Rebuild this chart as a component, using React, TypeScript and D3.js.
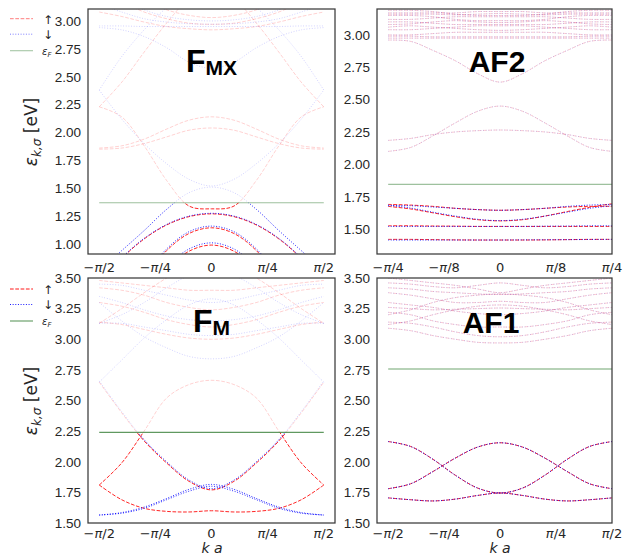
import React from "react";
import * as d3 from "d3";

// k·a in units of π
const K_FULL = [-0.5, -0.4, -0.3, -0.2, -0.1, 0, 0.1, 0.2, 0.3, 0.4, 0.5];
const K_HALF = [-0.25, -0.2, -0.15, -0.1, -0.05, 0, 0.05, 0.1, 0.15, 0.2, 0.25];

// ---------- F_MX ----------
const FMX_EF = 1.37;
const FMX_UP = [
  [2.23, 2.14, 1.88, 1.57, 1.34, 1.315, 1.34, 1.57, 1.88, 2.14, 2.23],
  [2.23, 2.45, 2.72, 2.98, 3.2, 3.3, 3.2, 2.98, 2.72, 2.45, 2.23],
  [1.86, 1.88, 1.94, 2.03, 2.11, 2.14, 2.11, 2.03, 1.94, 1.88, 1.86],
  [1.85, 1.86, 1.9, 1.96, 2.02, 2.04, 2.02, 1.96, 1.9, 1.86, 1.85],
  [3.08, 3.04, 2.99, 2.95, 2.93, 2.92, 2.93, 2.95, 2.99, 3.04, 3.08],
  [3.25, 3.17, 3.08, 3.02, 2.98, 2.97, 2.98, 3.02, 3.08, 3.17, 3.25],
  [3.4, 3.3, 3.19, 3.1, 3.05, 3.03, 3.05, 3.1, 3.19, 3.3, 3.4],
  [0.645, 0.87, 1.045, 1.17, 1.245, 1.27, 1.245, 1.17, 1.045, 0.87, 0.645],
  [-0.1, 0.33, 0.69, 0.94, 1.094, 1.145, 1.094, 0.94, 0.69, 0.33, -0.1],
  [-0.38, 0.11, 0.495, 0.77, 0.935, 0.99, 0.935, 0.77, 0.495, 0.11, -0.38],
];
const FMX_DN = [
  [2.38, 2.12, 1.9, 1.72, 1.58, 1.52, 1.58, 1.72, 1.9, 2.12, 2.38],
  [2.38, 2.68, 2.92, 3.12, 3.28, 3.35, 3.28, 3.12, 2.92, 2.68, 2.38],
  [0.76, 0.94, 1.12, 1.31, 1.46, 1.51, 1.46, 1.31, 1.12, 0.94, 0.76],
  [2.94, 2.92, 2.86, 2.76, 2.63, 2.575, 2.63, 2.76, 2.86, 2.92, 2.94],
  [2.955, 2.955, 2.95, 2.95, 2.95, 2.95, 2.95, 2.95, 2.95, 2.955, 2.955],
  [3.15, 3.08, 3.02, 2.99, 2.975, 2.97, 2.975, 2.99, 3.02, 3.08, 3.15],
  [3.3, 3.2, 3.1, 3.04, 3.01, 3.0, 3.01, 3.04, 3.1, 3.2, 3.3],
  [0.65, 0.875, 1.05, 1.175, 1.25, 1.275, 1.25, 1.175, 1.05, 0.875, 0.65],
  [-0.08, 0.35, 0.71, 0.955, 1.11, 1.16, 1.11, 0.955, 0.71, 0.35, -0.08],
  [-0.36, 0.13, 0.515, 0.79, 0.955, 1.01, 0.955, 0.79, 0.515, 0.13, -0.36],
];

// ---------- AF2 ----------
const AF2_EF = 1.845;
const AF2_UP = [
  [1.69, 1.685, 1.675, 1.66, 1.65, 1.645, 1.65, 1.66, 1.67, 1.675, 1.675],
  [1.675, 1.655, 1.625, 1.595, 1.572, 1.563, 1.572, 1.6, 1.635, 1.668, 1.695],
  [1.525, 1.525, 1.523, 1.522, 1.52, 1.52, 1.52, 1.52, 1.52, 1.52, 1.52],
  [1.42, 1.42, 1.418, 1.416, 1.415, 1.415, 1.415, 1.416, 1.418, 1.42, 1.42],
];
const AF2_DN = [
  [1.68, 1.68, 1.67, 1.66, 1.65, 1.645, 1.65, 1.66, 1.675, 1.685, 1.69],
  [1.685, 1.662, 1.63, 1.6, 1.575, 1.565, 1.575, 1.6, 1.63, 1.66, 1.68],
  [1.52, 1.52, 1.52, 1.52, 1.52, 1.52, 1.52, 1.522, 1.523, 1.525, 1.525],
  [1.415, 1.415, 1.415, 1.415, 1.415, 1.415, 1.416, 1.417, 1.418, 1.419, 1.42],
];
const AF2_HIGH = [
  [2.1, 2.13, 2.22, 2.32, 2.41, 2.45, 2.41, 2.32, 2.22, 2.13, 2.1],
  [2.185, 2.2, 2.23, 2.25, 2.26, 2.265, 2.26, 2.25, 2.23, 2.2, 2.185],
  [2.96, 2.95, 2.88, 2.8, 2.7, 2.635, 2.7, 2.8, 2.88, 2.95, 2.96],
  [2.975, 2.975, 2.975, 2.975, 2.975, 2.975, 2.975, 2.975, 2.975, 2.975, 2.975],
  [2.99, 2.99, 2.985, 2.985, 2.985, 2.985, 2.985, 2.985, 2.985, 2.99, 2.99],
  [3.0, 3.0, 3.01, 3.02, 3.02, 3.02, 3.02, 3.02, 3.01, 3.0, 3.0],
  [3.04, 3.04, 3.05, 3.06, 3.07, 3.07, 3.07, 3.06, 3.05, 3.04, 3.04],
  [3.06, 3.07, 3.06, 3.05, 3.04, 3.035, 3.04, 3.05, 3.06, 3.07, 3.06],
  [3.08, 3.085, 3.1, 3.11, 3.1, 3.095, 3.1, 3.11, 3.1, 3.085, 3.08],
  [3.1, 3.1, 3.09, 3.08, 3.08, 3.08, 3.08, 3.08, 3.09, 3.1, 3.1],
  [3.12, 3.12, 3.13, 3.14, 3.14, 3.14, 3.14, 3.14, 3.13, 3.12, 3.12],
  [3.15, 3.15, 3.14, 3.12, 3.11, 3.11, 3.11, 3.12, 3.14, 3.15, 3.15],
  [3.16, 3.16, 3.16, 3.155, 3.16, 3.165, 3.16, 3.155, 3.16, 3.16, 3.16],
  [3.17, 3.17, 3.17, 3.17, 3.18, 3.18, 3.18, 3.17, 3.17, 3.17, 3.17],
  [3.19, 3.19, 3.18, 3.16, 3.15, 3.15, 3.15, 3.16, 3.18, 3.19, 3.19],
];

// ---------- F_M ----------
const FM_EF = 2.24;
const FM_UP = [
  [1.81, 1.99, 2.25, 2.52, 2.63, 2.665, 2.63, 2.52, 2.25, 1.99, 1.81],
  [1.81, 1.69, 1.62, 1.595, 1.59, 1.6, 1.59, 1.595, 1.62, 1.69, 1.81],
  [2.65, 2.4, 2.17, 1.99, 1.84, 1.77, 1.84, 1.99, 2.17, 2.4, 2.65],
  [3.14, 3.12, 3.08, 3.04, 3.01, 3.0, 3.01, 3.04, 3.08, 3.12, 3.14],
  [3.3, 3.27, 3.22, 3.16, 3.12, 3.1, 3.12, 3.16, 3.22, 3.27, 3.3],
  [3.42, 3.4, 3.36, 3.3, 3.26, 3.24, 3.26, 3.3, 3.36, 3.4, 3.42],
  [3.13, 3.25, 3.38, 3.5, 3.6, 3.65, 3.6, 3.5, 3.38, 3.25, 3.13],
  [3.48, 3.46, 3.44, 3.42, 3.4, 3.4, 3.4, 3.42, 3.44, 3.46, 3.48],
];
const FM_DN = [
  [1.565, 1.585, 1.63, 1.7, 1.775, 1.815, 1.775, 1.7, 1.63, 1.585, 1.565],
  [1.565, 1.58, 1.62, 1.69, 1.76, 1.8, 1.76, 1.69, 1.62, 1.58, 1.565],
  [2.66, 2.41, 2.18, 2.0, 1.85, 1.78, 1.85, 2.0, 2.18, 2.41, 2.66],
  [2.65, 2.83, 3.01, 3.16, 3.28, 3.33, 3.28, 3.16, 3.01, 2.83, 2.65],
  [3.3, 3.15, 3.02, 2.93, 2.86, 2.84, 2.86, 2.93, 3.02, 3.15, 3.3],
  [3.13, 3.13, 3.1, 3.07, 3.04, 3.03, 3.04, 3.07, 3.1, 3.13, 3.13],
  [3.35, 3.3, 3.24, 3.19, 3.16, 3.15, 3.16, 3.19, 3.24, 3.3, 3.35],
  [3.45, 3.44, 3.4, 3.36, 3.32, 3.3, 3.32, 3.36, 3.4, 3.44, 3.45],
  [3.13, 3.2, 3.3, 3.42, 3.52, 3.56, 3.52, 3.42, 3.3, 3.2, 3.13],
];

// ---------- AF1 ----------
const AF1_EF = 2.757;
const AF1_BANDS = [
  [1.78, 1.82, 1.92, 2.03, 2.12, 2.155, 2.12, 2.03, 1.92, 1.82, 1.78],
  [2.165, 2.125, 2.02, 1.89, 1.785, 1.745, 1.785, 1.89, 2.02, 2.125, 2.165],
  [1.705, 1.69, 1.68, 1.695, 1.725, 1.745, 1.725, 1.695, 1.68, 1.69, 1.705],
  [3.09, 3.07, 3.03, 3.0, 2.975, 2.97, 2.975, 3.0, 3.03, 3.07, 3.09],
  [3.14, 3.13, 3.1, 3.06, 3.03, 3.02, 3.03, 3.06, 3.1, 3.13, 3.14],
  [3.22, 3.2, 3.15, 3.12, 3.1, 3.1, 3.1, 3.12, 3.15, 3.2, 3.22],
  [3.12, 3.15, 3.2, 3.24, 3.27, 3.28, 3.27, 3.24, 3.2, 3.15, 3.12],
  [3.3, 3.28, 3.26, 3.23, 3.21, 3.2, 3.21, 3.23, 3.26, 3.28, 3.3],
  [3.2, 3.24, 3.3, 3.34, 3.36, 3.37, 3.36, 3.34, 3.3, 3.24, 3.2],
  [3.38, 3.36, 3.33, 3.3, 3.3, 3.31, 3.3, 3.3, 3.33, 3.36, 3.38],
  [3.26, 3.25, 3.24, 3.245, 3.25, 3.255, 3.25, 3.245, 3.24, 3.25, 3.26],
  [3.42, 3.41, 3.39, 3.38, 3.37, 3.365, 3.37, 3.38, 3.39, 3.41, 3.42],
  [3.46, 3.45, 3.43, 3.42, 3.44, 3.46, 3.44, 3.42, 3.43, 3.45, 3.46],
  [3.5, 3.48, 3.46, 3.44, 3.41, 3.38, 3.41, 3.44, 3.46, 3.48, 3.5],
];

const TICKS_FMX = [1.0, 1.25, 1.5, 1.75, 2.0, 2.25, 2.5, 2.75, 3.0];
const TICKS_AF2 = [1.5, 1.75, 2.0, 2.25, 2.5, 2.75, 3.0];
const TICKS_BOTTOM = [1.5, 1.75, 2.0, 2.25, 2.5, 2.75, 3.0, 3.25, 3.5];
const XT_FULL = [
  { v: -0.5, s: "−", l: "/2" },
  { v: -0.25, s: "−", l: "/4" },
  { v: 0, s: "", l: "0" },
  { v: 0.25, s: "", l: "/4" },
  { v: 0.5, s: "", l: "/2" },
];
const XT_HALF = [
  { v: -0.25, s: "−", l: "/4" },
  { v: -0.125, s: "−", l: "/8" },
  { v: 0, s: "", l: "0" },
  { v: 0.125, s: "", l: "/8" },
  { v: 0.25, s: "", l: "/4" },
];

const RED = "#ff0000";
const BLUE = "#0000ff";
const GREEN = "#4f8f4f";

type PanelProps = {
  id: string;
  x0: number; x1: number; y0: number; y1: number;
  xDom: [number, number]; yDom: [number, number];
  ks: number[];
  up: number[][]; dn: number[][];
  ef: number;
  yTicks: number[];
  xTicks: { v: number; s: string; l: string }[];
  xTickY: number;
  efOpacity: number;
};

function Panel(p: PanelProps) {
  const x = d3.scaleLinear().domain(p.xDom).range([p.x0, p.x1]);
  const y = d3.scaleLinear().domain(p.yDom).range([p.y1, p.y0]);
  const line = d3
    .line<number>()
    .x((_, i) => x(p.ks[i]))
    .y((d) => y(d))
    .curve(d3.curveCatmullRom.alpha(0.5));
  const yEf = y(p.ef);
  const layers = [
    { clip: `${p.id}-lo`, op: 0.85 },
    { clip: `${p.id}-hi`, op: 0.18 },
  ];
  return (
    <g>
      <defs>
        <clipPath id={`${p.id}-lo`}>
          <rect x={p.x0} y={yEf} width={p.x1 - p.x0} height={p.y1 - yEf} />
        </clipPath>
        <clipPath id={`${p.id}-hi`}>
          <rect x={p.x0} y={p.y0} width={p.x1 - p.x0} height={yEf - p.y0} />
        </clipPath>
      </defs>
      {layers.map((L) => (
        <g key={L.clip} clipPath={`url(#${L.clip})`}>
          {p.up.map((b, i) => (
            <path key={"u" + i} d={line(b) || ""} fill="none" stroke={RED} strokeWidth={1}
              strokeDasharray="3.7,1.6" opacity={L.op} />
          ))}
          {p.dn.map((b, i) => (
            <path key={"d" + i} d={line(b) || ""} fill="none" stroke={BLUE} strokeWidth={1}
              strokeDasharray="1,1.65" opacity={L.op} />
          ))}
        </g>
      ))}
      <line x1={x(p.ks[0])} x2={x(p.ks[p.ks.length - 1])} y1={yEf} y2={yEf}
        stroke={GREEN} strokeWidth={1.1} opacity={p.efOpacity} />
      <rect x={p.x0} y={p.y0} width={p.x1 - p.x0} height={p.y1 - p.y0}
        fill="none" stroke="#3a3a3a" strokeWidth={1.25} />
      {p.yTicks.map((t) => (
        <text key={t} x={p.x0 - 7} y={y(t)} dy="0.36em" textAnchor="end"
          fontFamily="Liberation Sans, Arial, sans-serif" fontSize={13.5} fill="#262626">
          {t.toFixed(2)}
        </text>
      ))}
      {p.xTicks.map((t) => (
        <text key={t.v} x={x(t.v)} y={p.xTickY} textAnchor="middle"
          fontFamily="DejaVu Sans, sans-serif" fontSize={13} fill="#262626">
          {t.s}
          {t.l === "0" ? "0" : <tspan fontStyle="italic">π</tspan>}
          {t.l === "0" ? null : t.l}
        </text>
      ))}
    </g>
  );
}

function Legend({ y, op }: { y: number; op: number }) {
  return (
    <g fontFamily="DejaVu Sans, sans-serif" fill="#262626">
      <line x1={10} x2={33} y1={y} y2={y} stroke={RED} strokeDasharray="3.7,1.6" opacity={op} />
      <line x1={10} x2={33} y1={y + 15.5} y2={y + 15.5} stroke={BLUE} strokeDasharray="1,1.65" opacity={op} />
      <line x1={10} x2={33} y1={y + 32} y2={y + 32} stroke={GREEN} strokeWidth={1.1} opacity={op} />
      <text x={48} y={y + 5} textAnchor="middle" fontSize={12}>↑</text>
      <text x={48} y={y + 20} textAnchor="middle" fontSize={12}>↓</text>
      <text x={42} y={y + 36} fontSize={10} fontStyle="italic">
        ε<tspan fontSize={7} dy={2}>F</tspan>
      </text>
    </g>
  );
}

function YLabel({ cx, cy }: { cx: number; cy: number }) {
  return (
    <text transform={`translate(${cx},${cy}) rotate(-90)`} textAnchor="middle"
      fontFamily="DejaVu Sans, sans-serif" fontSize={17} fill="#262626">
      <tspan fontStyle="italic">ε</tspan>
      <tspan fontStyle="italic" fontSize={12} dy={4}>k,σ</tspan>
      <tspan dy={-4}> [eV]</tspan>
    </text>
  );
}

export default function App() {
  return (
    <svg width={624} height={556} style={{ position: "absolute", left: 0, top: 0, background: "#fff" }}>
      <rect width={624} height={556} fill="#fff" />
      <Panel id="fmx" x0={88} x1={335} y0={9} y1={254} xDom={[-0.55, 0.55]} yDom={[0.91, 3.107]}
        ks={K_FULL} up={FMX_UP} dn={FMX_DN} ef={FMX_EF} yTicks={TICKS_FMX} xTicks={XT_FULL}
        xTickY={272} efOpacity={0.55} />
      <Panel id="af2" x0={377} x1={612} y0={9} y1={254} xDom={[-0.275, 0.25]} yDom={[1.307, 3.2]}
        ks={K_HALF} up={AF2_UP.concat(AF2_HIGH)} dn={AF2_DN.concat(AF2_HIGH)} ef={AF2_EF}
        yTicks={TICKS_AF2} xTicks={XT_HALF} xTickY={272} efOpacity={0.55} />
      <Panel id="fm" x0={88} x1={335} y0={278} y1={523} xDom={[-0.55, 0.55]} yDom={[1.5, 3.5]}
        ks={K_FULL} up={FM_UP} dn={FM_DN} ef={FM_EF} yTicks={TICKS_BOTTOM} xTicks={XT_FULL}
        xTickY={538} efOpacity={0.9} />
      <Panel id="af1" x0={377} x1={612} y0={278} y1={523} xDom={[-0.55, 0.5]} yDom={[1.5, 3.5]}
        ks={K_FULL} up={AF1_BANDS} dn={AF1_BANDS} ef={AF1_EF} yTicks={TICKS_BOTTOM} xTicks={XT_FULL}
        xTickY={538} efOpacity={0.8} />

      <Legend y={18.7} op={0.5} />
      <Legend y={289} op={0.9} />
      <YLabel cx={37} cy={132} />
      <YLabel cx={37} cy={401} />

      <g fontFamily="Liberation Sans, Arial, sans-serif" fontWeight="bold" fill="#000">
        <text x={186} y={72} fontSize={32}>F<tspan fontSize={21} dy={2.5}>MX</tspan></text>
        <text x={497} y={72} fontSize={30} textAnchor="middle">AF2</text>
        <text x={193} y={332} fontSize={32}>F<tspan fontSize={21} dy={2.5}>M</tspan></text>
        <text x={491} y={333} fontSize={30} textAnchor="middle">AF1</text>
      </g>
      <g fontFamily="DejaVu Sans, sans-serif" fontStyle="italic" fontSize={14} fill="#262626">
        <text x={212} y={553} textAnchor="middle">k a</text>
        <text x={500} y={553} textAnchor="middle">k a</text>
      </g>
    </svg>
  );
}
